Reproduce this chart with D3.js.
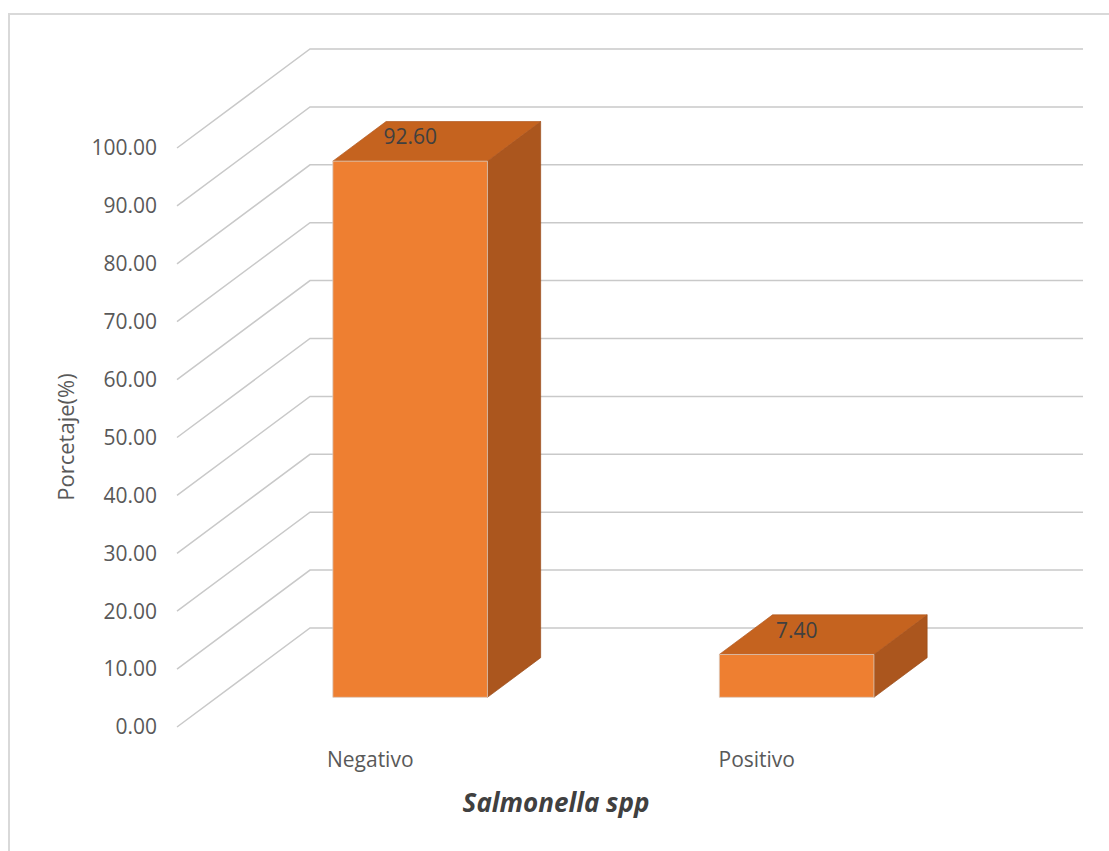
<!DOCTYPE html>
<html>
<head>
<meta charset="utf-8">
<script src="https://cdn.jsdelivr.net/npm/d3@7"></script>
<style>
  body { margin: 0; background: #fff; }
  text { font-family: "Open Sans", sans-serif; }
</style>
</head>
<body>
<svg id="chart"></svg>
<script>
// data
var categories = ["Negativo", "Positivo"];
var values = [92.60, 7.40];
var tickValues = [0, 10, 20, 30, 40, 50, 60, 70, 80, 90, 100];

var width = 1109, height = 851;

var svg = d3.select('#chart')
            .attr('width', width)
            .attr('height', height);

// chart frame (runs off the right/bottom of the picture)
svg.append('rect')
   .attr('x', 9).attr('y', 14)
   .attr('width', 1200).attr('height', 900)
   .attr('fill', '#fff')
   .attr('stroke', '#d9d9d9')
   .attr('stroke-width', 2);

// floor front edge and depth vector of the 3d box
var floorLeft = 177, floorRight = 950;
var depth = {x: 133, y: -99};
var wallRight = 1083;

var yScale = d3.scaleLinear()
               .domain([0, 100])
               .range([727, 148]);

var xScale = d3.scaleBand()
               .domain(categories)
               .range([floorLeft, floorRight]);

// project a point (x at front, value, depth fraction) to screen
function proj(x, v, d) {
  return [x + depth.x * d, yScale(v) + depth.y * d];
}

// gridlines: diagonal on the side wall, then flat on the back wall
var grid = svg.append('g').attr('class', 'grid');
tickValues.forEach(function(v) {
  var p0 = proj(floorLeft, v, 0);
  var p1 = proj(floorLeft, v, 1);
  grid.append('polyline')
      .attr('points', [p0, p1, [wallRight, p1[1]]].map(p => p.join(',')).join(' '))
      .attr('fill', 'none')
      .attr('stroke', '#c9c9c9')
      .attr('stroke-width', 1.5);
});

// tick labels
svg.append('g')
   .selectAll('text')
   .data(tickValues)
   .enter()
   .append('text')
   .attr('x', 157)
   .attr('y', d => yScale(d))
   .attr('dy', '0.35em')
   .attr('text-anchor', 'end')
   .attr('fill', '#595959')
   .style('font-size', '21px')
   .text(d => d.toFixed(2));

// bars
var d0 = 0.3, d1 = 0.7;     // front and back depth of the bars
var barFrac = 0.4;

var bars = svg.append('g')
              .selectAll('g.bar')
              .data(categories.map((c, i) => ({cat: c, value: values[i]})))
              .enter()
              .append('g')
              .attr('class', 'bar');

function bx0(d) { return xScale(d.cat) + xScale.bandwidth() * (1 - barFrac) / 2; }
function bx1(d) { return bx0(d) + xScale.bandwidth() * barFrac; }
function poly(pts) { return pts.map(p => p.join(',')).join(' '); }

// side face
bars.append('polygon')
    .attr('points', d => poly([
      proj(bx1(d), 0, d0), proj(bx1(d), 0, d1),
      proj(bx1(d), d.value, d1), proj(bx1(d), d.value, d0)]))
    .attr('fill', '#ab561e')
    .attr('stroke', '#9a4c1a')
    .attr('stroke-width', 0.7);

// top face
bars.append('polygon')
    .attr('points', d => poly([
      proj(bx0(d), d.value, d0), proj(bx1(d), d.value, d0),
      proj(bx1(d), d.value, d1), proj(bx0(d), d.value, d1)]))
    .attr('fill', '#c5631f')
    .attr('stroke', '#b05820')
    .attr('stroke-width', 0.7);

// front face
bars.append('polygon')
    .attr('points', d => poly([
      proj(bx0(d), 0, d0), proj(bx1(d), 0, d0),
      proj(bx1(d), d.value, d0), proj(bx0(d), d.value, d0)]))
    .attr('fill', '#ee7f31')
    .attr('stroke', '#d9c9bd')
    .attr('stroke-width', 0.8);

// data labels
bars.append('text')
    .attr('x', d => proj((bx0(d) + bx1(d)) / 2, d.value, d0)[0])
    .attr('y', d => proj(0, d.value, d0)[1] - 24)
    .attr('dy', '0.35em')
    .attr('text-anchor', 'middle')
    .attr('fill', '#404040')
    .style('font-size', '21px')
    .text(d => d.value.toFixed(2));

// category labels
svg.append('g')
   .selectAll('text')
   .data(categories)
   .enter()
   .append('text')
   .attr('x', d => xScale(d) + xScale.bandwidth() / 2)
   .attr('y', 760)
   .attr('dy', '0.35em')
   .attr('text-anchor', 'middle')
   .attr('fill', '#595959')
   .style('font-size', '21px')
   .text(d => d);

// axis titles
svg.append('text')
   .attr('x', 556)
   .attr('y', 803)
   .attr('dy', '0.35em')
   .attr('text-anchor', 'middle')
   .attr('fill', '#404040')
   .style('font-size', '26px')
   .style('font-weight', 'bold')
   .style('font-style', 'italic')
   .text('Salmonella spp');

svg.append('text')
   .attr('transform', 'translate(66,437) rotate(-90)')
   .attr('dy', '0.35em')
   .attr('text-anchor', 'middle')
   .attr('fill', '#595959')
   .style('font-size', '22px')
   .text('Porcetaje(%)');
</script>
</body>
</html>
